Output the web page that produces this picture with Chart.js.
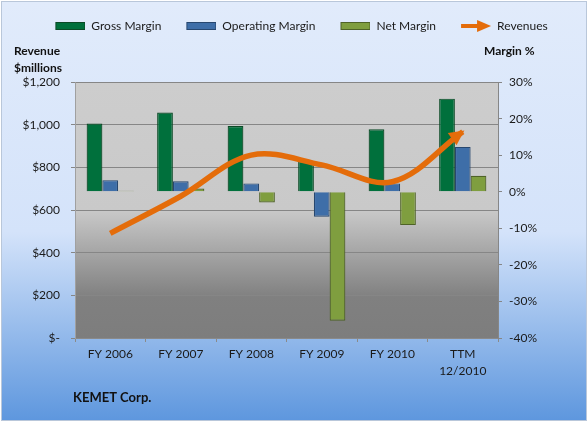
<!DOCTYPE html>
<html>
<head>
<meta charset="utf-8">
<script src="https://cdn.jsdelivr.net/npm/chart.js@4.4.1/dist/chart.umd.min.js"></script>
<style>
  html, body { margin: 0; padding: 0; background: #fff; }
  #wrap { width: 588px; height: 423px; }
</style>
</head>
<body>
<div id="wrap"><canvas id="kemetChart" width="588" height="423"></canvas></div>
<script>
// values
const categories = ["FY 2006", "FY 2007", "FY 2008", "FY 2009", "FY 2010", ["TTM", "12/2010"]];
const grossMargin = [18.7, 21.7, 18.0, 8.4, 17.1, 25.5];
const operatingMargin = [3.2, 2.9, 2.3, -6.8, 2.3, 12.3];
const netMargin = [0.3, 0.9, -2.9, -35.3, -9.1, 4.4];
const revenues = [491, 665, 858, 812, 733, 968];

const revenueTicks = ["$-", "$200", "$400", "$600", "$800", "$1,000", "$1,200"];
const marginTicks = ["-40%", "-30%", "-20%", "-10%", "0%", "10%", "20%", "30%"];

const ORANGE = "#e46c0a";

Chart.defaults.font.family = "Lato";
Chart.defaults.font.size = 12;
Chart.defaults.color = "#1a1a1a";

// little pictures for the legend (15px blank on the left acts as spacing)
function boxIcon(fill, stroke) {
  const c = document.createElement("canvas");
  c.width = 45; c.height = 8;
  const g = c.getContext("2d");
  g.fillStyle = fill;
  g.fillRect(15.5, 0.5, 29, 7);
  g.strokeStyle = stroke;
  g.lineWidth = 1;
  g.strokeRect(15.5, 0.5, 29, 7);
  return c;
}
function arrowIcon() {
  const c = document.createElement("canvas");
  c.width = 45; c.height = 14;
  const g = c.getContext("2d");
  g.strokeStyle = ORANGE;
  g.lineWidth = 4;
  g.beginPath(); g.moveTo(15, 7); g.lineTo(33, 7); g.stroke();
  g.fillStyle = ORANGE;
  g.beginPath(); g.moveTo(31, 1); g.lineTo(45, 7); g.lineTo(31, 13); g.closePath(); g.fill();
  return c;
}
const legendIcons = [
  boxIcon("#00703c", "#0b4a26"),
  boxIcon("#3e6ea8", "#27476f"),
  boxIcon("#7f9e3f", "#4f6327"),
  arrowIcon()
];

// backgrounds of the whole chart and of the plot area
const backdrop = {
  id: "backdrop",
  beforeDraw(chart) {
    const { ctx, chartArea: a } = chart;
    ctx.save();
    ctx.fillStyle = "#fff";
    ctx.fillRect(0, 0, chart.width, chart.height);
    const bg = ctx.createLinearGradient(0, 2, 0, 420);
    bg.addColorStop(0, "#e1ebfb");
    bg.addColorStop(0.55, "#d4e3fa");
    bg.addColorStop(1, "#5e97de");
    ctx.fillStyle = bg;
    ctx.fillRect(1.5, 1.5, 585, 419);
    ctx.strokeStyle = "#b9c7da";
    ctx.lineWidth = 1;
    ctx.strokeRect(1.5, 1.5, 585, 419);

    const pg = ctx.createLinearGradient(0, a.top, 0, a.bottom);
    pg.addColorStop(0, "#cdcdcd");
    pg.addColorStop(0.5, "#c9c9c9");
    pg.addColorStop(0.84, "#808080");
    pg.addColorStop(1, "#7d7d7d");
    ctx.fillStyle = pg;
    ctx.fillRect(a.left, a.top, a.right - a.left, a.bottom - a.top);
    ctx.restore();
  },
  afterDraw(chart) {
    const { ctx } = chart;
    ctx.save();
    ctx.fillStyle = "#111";
    ctx.font = "bold 12px Lato";
    ctx.textBaseline = "middle";
    ctx.textAlign = "left";
    ctx.fillText("Revenue", 14, 51);
    ctx.fillText("$millions", 14, 68);
    ctx.fillText("Margin %", 484, 51);
    ctx.font = "bold 13px Lato";
    ctx.fillText("KEMET Corp.", 73, 398);
    ctx.restore();
  }
};

// arrow head at the end of the revenue line
const arrowHead = {
  id: "arrowHead",
  afterDatasetsDraw(chart) {
    const meta = chart.getDatasetMeta(3);
    const last = meta.data[meta.data.length - 1];
    if (!last) return;
    const ang = Math.atan2(last.y - last.cp1y, last.x - last.cp1x);
    const { ctx } = chart;
    const tipX = last.x + 2 * Math.cos(ang), tipY = last.y + 2 * Math.sin(ang);
    ctx.save();
    ctx.translate(tipX, tipY);
    ctx.rotate(ang);
    ctx.fillStyle = ORANGE;
    ctx.beginPath();
    ctx.moveTo(0, 0);
    ctx.lineTo(-15, -7.5);
    ctx.lineTo(-15, 7.5);
    ctx.closePath();
    ctx.fill();
    ctx.restore();
  }
};

const ctx = document.getElementById("kemetChart").getContext("2d");
new Chart(ctx, {
  type: "bar",
  data: {
    labels: categories,
    datasets: [
      { label: "Gross Margin", data: grossMargin, yAxisID: "y1", order: 1,
        backgroundColor: "#00703c", borderColor: "#0b4a26", borderWidth: 1.2 },
      { label: "Operating Margin", data: operatingMargin, yAxisID: "y1", order: 1,
        backgroundColor: "#3e6ea8", borderColor: "#27476f", borderWidth: 1.2 },
      { label: "Net Margin", data: netMargin, yAxisID: "y1", order: 1,
        backgroundColor: "#7f9e3f", borderColor: "#4f6327", borderWidth: 1.2 },
      { type: "line", label: "Revenues", data: revenues, yAxisID: "y", order: 0,
        borderColor: ORANGE, borderWidth: 5.5, tension: 0.35, pointRadius: 0,
        borderCapStyle: "butt", fill: false }
    ]
  },
  options: {
    responsive: false,
    animation: false,
    devicePixelRatio: 1,
    categoryPercentage: 0.67,
    barPercentage: 1.0,
    layout: { padding: { top: 10, left: 0, right: 0, bottom: 0 } },
    plugins: {
      tooltip: { enabled: false },
      legend: {
        position: "top",
        labels: {
          usePointStyle: true,
          pointStyleWidth: 45,
          padding: 10,
          font: { size: 12 },
          generateLabels(chart) {
            return chart.data.datasets.map((ds, i) => ({
              text: ds.label,
              pointStyle: legendIcons[i],
              datasetIndex: i,
              hidden: false,
              lineWidth: 0,
              fontColor: "#1a1a1a"
            }));
          }
        }
      },
      // empty spacer between the legend and the plot, room for the axis captions
      subtitle: {
        display: true,
        text: " ",
        weight: 500,
        font: { size: 1 },
        padding: { top: 0, bottom: 39 }
      }
    },
    scales: {
      x: {
        grid: { display: true, drawOnChartArea: false, color: "#8a8a8a", tickLength: 4, offset: true },
        border: { color: "#8a8a8a" },
        ticks: { padding: 4, font: { size: 12, lineHeight: 1.4 }, maxRotation: 0 },
        afterFit(scale) { scale.height = 85; }
      },
      y: {
        position: "left",
        min: 0, max: 1200,
        grid: { color: "#868686", tickLength: 4 },
        border: { color: "#a0a0a0" },
        ticks: {
          stepSize: 200, padding: 11,
          callback: (v, i) => revenueTicks[i]
        },
        afterFit(scale) { scale.width = 75; }
      },
      y1: {
        position: "right",
        min: -40, max: 30,
        grid: { drawOnChartArea: false, color: "#868686", tickLength: 4 },
        border: { color: "#868686" },
        ticks: {
          stepSize: 10, padding: 7,
          callback: (v, i) => marginTicks[i]
        },
        afterFit(scale) { scale.width = 90; }
      }
    }
  },
  plugins: [backdrop, arrowHead]
});
</script>
</body>
</html>
